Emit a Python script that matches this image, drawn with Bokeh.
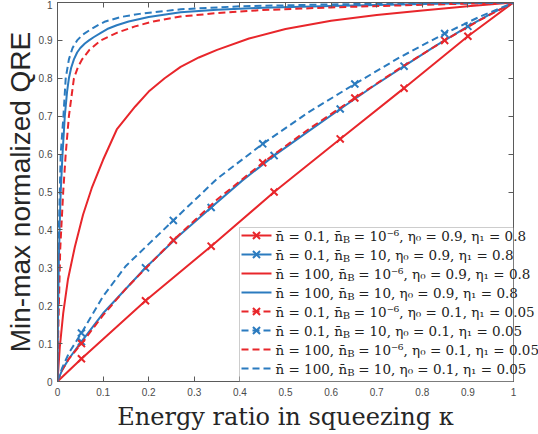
from bokeh.plotting import figure
from bokeh.models import Range1d, FixedTicker, LinearAxis, BoxAnnotation
from bokeh.core.properties import value
from bokeh.embed import file_html
from bokeh.resources import INLINE

RED = "#E8262B"
BLUE = "#2B7BBF"

# ---- tick values / labels ----
XTICKS = [0, 0.1, 0.2, 0.3, 0.4, 0.5, 0.6, 0.7, 0.8, 0.9, 1]
XLABELS = ["0", "0.1", "0.2", "0.3", "0.4", "0.5", "0.6", "0.7", "0.8", "0.9", "1"]
YTICKS = [0, 0.1, 0.2, 0.3, 0.4, 0.5, 0.6, 0.7, 0.8, 0.9, 1]
YLABELS = ["0", "0.1", "0.2", "0.3", "0.4", "0.5", "0.6", "0.7", "0.8", "0.9", "1"]

# ---- series A: n=0.1, nB=1e-6, eta0=0.9, eta1=0.8 (red solid, x) ----
A_x = [0, 0.0525, 0.193, 0.337, 0.475, 0.62, 0.76, 0.90, 1.0]
A_y = [0, 0.06, 0.213, 0.357, 0.50, 0.64, 0.774, 0.911, 1.0]
A_mx = [0.0525, 0.193, 0.337, 0.475, 0.62, 0.76, 0.90]
A_my = [0.06, 0.213, 0.357, 0.50, 0.64, 0.774, 0.911]

# ---- series B: n=0.1, nB=10, eta0=0.9, eta1=0.8 (blue solid, x) ----
B_x = [0, 0.01, 0.025, 0.0525, 0.1, 0.193, 0.265, 0.337, 0.405, 0.475, 0.55, 0.62, 0.69, 0.76, 0.83, 0.90, 0.95, 1.0]
B_y = [0, 0.03, 0.06, 0.105, 0.18, 0.30, 0.383, 0.459, 0.53, 0.596, 0.66, 0.719, 0.777, 0.832, 0.886, 0.937, 0.97, 1.0]
B_mx = [0.0525, 0.193, 0.337, 0.475, 0.62, 0.76, 0.90]
B_my = [0.105, 0.30, 0.459, 0.596, 0.719, 0.832, 0.937]

# ---- series E: n=100, nB=1e-6, eta0=0.9, eta1=0.8 (red solid) ----
E_x = [0, 0.005, 0.0125, 0.023, 0.038, 0.056, 0.075, 0.1, 0.13, 0.17, 0.2, 0.235, 0.27, 0.31, 0.35, 0.42, 0.5, 0.6, 0.7, 0.8, 0.9, 1.0]
E_y = [0, 0.09, 0.18, 0.27, 0.355, 0.44, 0.51, 0.585, 0.665, 0.725, 0.765, 0.80, 0.83, 0.855, 0.875, 0.905, 0.93, 0.952, 0.967, 0.979, 0.99, 1.0]

# ---- series F: n=100, nB=10, eta0=0.9, eta1=0.8 (blue solid) ----
F_x = [0, 0.001, 0.003, 0.005, 0.007, 0.011, 0.016, 0.021, 0.025, 0.03, 0.036, 0.043, 0.05, 0.06, 0.069, 0.08, 0.095, 0.109, 0.13, 0.156, 0.2, 0.27, 0.35, 0.45, 0.6, 0.8, 1.0]
F_y = [0, 0.15, 0.32, 0.42, 0.5, 0.6, 0.7, 0.765, 0.8, 0.828, 0.85, 0.868, 0.88, 0.892, 0.9, 0.909, 0.92, 0.93, 0.94, 0.95, 0.962, 0.974, 0.981, 0.986, 0.991, 0.996, 1.0]

# ---- series C: n=0.1, nB=1e-6, eta0=0.1, eta1=0.05 (red dashed, x) ----
C_x = [0, 0.01, 0.025, 0.0525, 0.1, 0.15, 0.254, 0.35, 0.45, 0.55, 0.652, 0.75, 0.849, 0.925, 1.0]
C_y = [0, 0.03, 0.06, 0.10, 0.175, 0.245, 0.373, 0.48, 0.577, 0.665, 0.748, 0.826, 0.90, 0.953, 1.0]
C_mx = [0.0525, 0.254, 0.45, 0.652, 0.849]
C_my = [0.10, 0.373, 0.577, 0.748, 0.90]

# ---- series D: n=0.1, nB=10, eta0=0.1, eta1=0.05 (blue dashed, x) ----
D_x = [0, 0.01, 0.025, 0.0525, 0.1, 0.15, 0.254, 0.35, 0.45, 0.55, 0.652, 0.75, 0.849, 0.925, 1.0]
D_y = [0, 0.035, 0.075, 0.128, 0.225, 0.305, 0.425, 0.535, 0.627, 0.71, 0.785, 0.855, 0.918, 0.962, 1.0]
D_mx = [0.0525, 0.254, 0.45, 0.652, 0.849]
D_my = [0.128, 0.425, 0.627, 0.785, 0.918]

# ---- series G: n=100, nB=1e-6, eta0=0.1, eta1=0.05 (red dashed) ----
G_x = [0, 0.002, 0.006, 0.0125, 0.018, 0.025, 0.036, 0.045, 0.054, 0.07, 0.095, 0.13, 0.17, 0.21, 0.27, 0.35, 0.45, 0.6, 0.8, 1.0]
G_y = [0, 0.15, 0.35, 0.5, 0.6, 0.7, 0.8, 0.83, 0.85, 0.875, 0.9, 0.92, 0.937, 0.95, 0.963, 0.972, 0.98, 0.987, 0.994, 1.0]

# ---- series H: n=100, nB=10, eta0=0.1, eta1=0.05 (blue dashed) ----
H_x = [0, 0.001, 0.003, 0.007, 0.013, 0.018, 0.025, 0.033, 0.043, 0.055, 0.074, 0.09, 0.105, 0.14, 0.18, 0.27, 0.4, 0.6, 0.8, 1.0]
H_y = [0, 0.2, 0.4, 0.6, 0.7, 0.8, 0.85, 0.88, 0.9, 0.915, 0.93, 0.941, 0.95, 0.962, 0.97, 0.982, 0.99, 0.995, 0.998, 1.0]

# legend text pieces: (before subscript, after subscript)
LEG_PRE = ["n\u0304 = 0.1, n\u0304", "n\u0304 = 0.1, n\u0304", "n\u0304 = 100, n\u0304", "n\u0304 = 100, n\u0304",
           "n\u0304 = 0.1, n\u0304", "n\u0304 = 0.1, n\u0304", "n\u0304 = 100, n\u0304", "n\u0304 = 100, n\u0304"]
LEG_POST = ["= 10\u207b\u2076, \u03b7\u2080 = 0.9, \u03b7\u2081 = 0.8",
            "= 10, \u03b7\u2080 = 0.9, \u03b7\u2081 = 0.8",
            "= 10\u207b\u2076, \u03b7\u2080 = 0.9, \u03b7\u2081 = 0.8",
            "= 10, \u03b7\u2080 = 0.9, \u03b7\u2081 = 0.8",
            "= 10\u207b\u2076, \u03b7\u2080 = 0.1, \u03b7\u2081 = 0.05",
            "= 10, \u03b7\u2080 = 0.1, \u03b7\u2081 = 0.05",
            "= 10\u207b\u2076, \u03b7\u2080 = 0.1, \u03b7\u2081 = 0.05",
            "= 10, \u03b7\u2080 = 0.1, \u03b7\u2081 = 0.05"]

# ---- layout (the page template has no body margin) ----
W, H = 538, 434
ML, MR, MT, MB = 57, 25, 2, 53
FW = W - ML - MR
FH = H - MT - MB

p = figure(width=W, height=H, x_range=Range1d(0, 1), y_range=Range1d(0, 1),
           output_backend="svg", toolbar_location=None,
           min_border_left=ML, min_border_right=MR, min_border_top=MT, min_border_bottom=MB)
p.xgrid.visible = False
p.ygrid.visible = False
p.outline_line_color = "#5a5a5a"
p.outline_line_width = 1
p.background_fill_color = "white"
p.border_fill_color = "white"

AX = "#5a5a5a"
xover = {t: l for t, l in zip(XTICKS, XLABELS)}
yover = {t: l for t, l in zip(YTICKS, YLABELS)}


def style_axis(ax, ticks, over, show_labels):
    ax.ticker = FixedTicker(ticks=ticks)
    ax.axis_line_color = AX
    ax.major_tick_line_color = AX
    ax.major_tick_in = 5
    ax.major_tick_out = 0
    ax.minor_tick_line_color = None
    if show_labels:
        ax.major_label_overrides = over
        ax.major_label_text_font = "Liberation Sans"
        ax.major_label_text_font_size = "10px"
        ax.major_label_text_color = "#4a4a4a"
        ax.major_label_standoff = 5
    else:
        ax.major_label_text_color = None
        ax.major_label_text_font_size = "0px"
        ax.major_label_standoff = 0


xa = p.xaxis[0]
ya = p.yaxis[0]
style_axis(xa, XTICKS, xover, True)
style_axis(ya, YTICKS, yover, True)
xa.major_label_standoff = 6
xa.axis_label = "Energy ratio in squeezing \u03ba"
xa.axis_label_text_font = "DejaVu Serif"
xa.axis_label_text_font_style = "normal"
xa.axis_label_text_font_size = "24px"
xa.axis_label_text_color = "#262626"
xa.axis_label_standoff = 4
ya.axis_label = "Min-max normalized QRE"
ya.axis_label_text_font = "Liberation Sans"
ya.axis_label_text_font_style = "normal"
ya.axis_label_text_font_size = "28px"
ya.axis_label_text_color = "#262626"
ya.axis_label_standoff = 0

top = LinearAxis()
style_axis(top, XTICKS, xover, False)
p.add_layout(top, "above")
right = LinearAxis()
style_axis(right, YTICKS, yover, False)
p.add_layout(right, "right")

DASH = "7 4"
series = [
    (A_x, A_y, A_mx, A_my, RED, "solid"),
    (B_x, B_y, B_mx, B_my, BLUE, "solid"),
    (E_x, E_y, None, None, RED, "solid"),
    (F_x, F_y, None, None, BLUE, "solid"),
    (C_x, C_y, C_mx, C_my, RED, DASH),
    (D_x, D_y, D_mx, D_my, BLUE, DASH),
    (G_x, G_y, None, None, RED, DASH),
    (H_x, H_y, None, None, BLUE, DASH),
]
for sx, sy, mx, my, col, dash in series:
    p.line(sx, sy, line_color=col, line_width=2, line_dash=dash)
    if mx is not None:
        p.scatter(mx, my, marker="x", size=10, line_color=col, line_width=2)

# ---- legend (drawn manually, anchored to the frame's bottom-right corner) ----
LEG_W, LEG_H = 274, 154
ROW0, ROWSTEP = 8, 19
FS = 13.5
p.add_layout(BoxAnnotation(left=1 - LEG_W / FW, right=1, bottom=0, top=LEG_H / FH,
                           fill_color="white", fill_alpha=1, line_color="#5a5a5a", line_width=1))
tx = 1 - 238 / FW
for i, (sx, sy, mx, my, col, dash) in enumerate(series):
    yy = (LEG_H - ROW0 - ROWSTEP * i) / FH
    x0 = 1 - 272 / FW
    x1 = 1 - 242 / FW
    p.line([x0, x1], [yy, yy], line_color=col, line_width=2, line_dash=dash, level="overlay")
    if mx is not None:
        p.scatter([(x0 + x1) / 2], [yy], marker="x", size=10, line_color=col, line_width=2, level="overlay")
    pre = LEG_PRE[i]
    w_pre = (4.99 if "0.1" in pre else 5.31) * FS
    p.text(x=[tx], y=[yy], text=[pre], text_font=value("DejaVu Serif"), text_font_size=f"{FS}px",
           text_baseline="middle", text_align="left", text_color="#222222", level="overlay")
    p.text(x=[tx], y=[yy], x_offset=w_pre, y_offset=4, text=["B"], text_font=value("DejaVu Serif"),
           text_font_size="10px", text_baseline="middle", text_align="left", text_color="#222222", level="overlay")
    p.text(x=[tx], y=[yy], x_offset=w_pre + 11, text=[LEG_POST[i]], text_font=value("DejaVu Serif"),
           text_font_size=f"{FS}px", text_baseline="middle", text_align="left", text_color="#222222", level="overlay")

open("out.html", "w").write(file_html(p, INLINE))
